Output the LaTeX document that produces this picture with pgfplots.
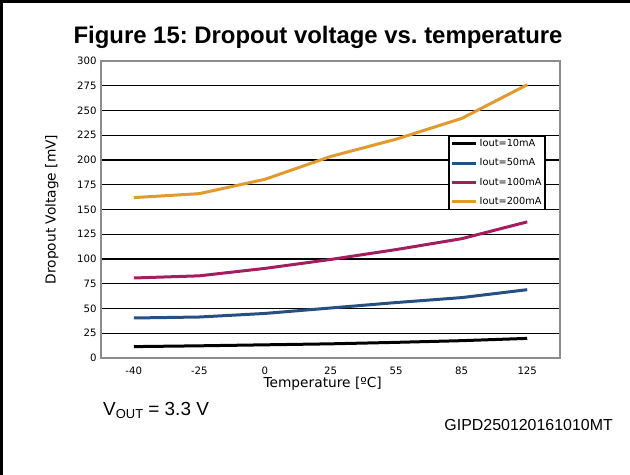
\documentclass[border=0pt]{standalone}
\usepackage{fontspec}
\setmainfont{DejaVu Sans}
\newfontfamily\arial{Liberation Sans}
\usepackage{pgfplots}
\pgfplotsset{compat=1.18}
\definecolor{cblue}{RGB}{38,80,130}
\definecolor{cmag}{RGB}{163,30,95}
\definecolor{corange}{RGB}{226,153,45}
\frenchspacing
\begin{document}
\begin{tikzpicture}[x=1bp,y=1bp]
\begin{axis}[
  at={(101bp,117bp)}, anchor=south west,
  width=459bp, height=297bp, scale only axis,
  xmin=-0.5, xmax=6.5, ymin=0, ymax=300,
  xtick={0,...,6}, xticklabels={-40,-25,0,25,55,85,125},
  ytick={0,25,...,300},
  ymajorgrids, major grid style={black, line width=1.1bp},
  axis line style={draw=black!45, line width=1.5bp},
  major tick length=0pt,
  /pgf/number format/assume math mode=true,
  tick label style={font=\fontsize{10.2}{11}\selectfont},
  xticklabel style={yshift=-5bp, text height=7.5bp, text depth=0bp},
  yticklabel style={xshift=-1bp},
  xlabel={Temperature [ºC]},
  ylabel={Dropout Voltage [mV]},
  label style={font=\fontsize{13.8}{15}\selectfont},
  xlabel style={at={(axis description cs:0.483,-0.098)}, anchor=base},
  ylabel style={at={(axis description cs:-0.107,0.5)}, anchor=center},
  legend style={at={(rel axis cs:0.757,0.750)}, anchor=north west,
    draw=black, line width=1.5bp, font=\fontsize{9.8}{11}\selectfont,
    inner sep=1.5bp, row sep=6.5bp, cells={anchor=west}},
  legend image code/.code={\draw[#1, line width=3bp] (0bp,0bp) -- (24bp,0bp);},
  every axis plot/.append style={line width=3bp, mark=none},
]
\addplot[black] coordinates {(0,11.5) (1,12.3) (2,13.3) (3,14.3) (4,15.8) (5,17.5) (6,19.8)};
\addlegendentry{Iout=10mA}
\addplot[cblue] coordinates {(0,40.4) (1,41.4) (2,45) (3,50.5) (4,56) (5,61) (6,69)};
\addlegendentry{Iout=50mA}
\addplot[cmag] coordinates {(0,80.8) (1,83) (2,90.5) (3,99.5) (4,109.5) (5,120.5) (6,137.5)};
\addlegendentry{Iout=100mA}
\addplot[corange] coordinates {(0,162) (1,166) (2,180.5) (3,203.5) (4,221) (5,242) (6,276)};
\addlegendentry{Iout=200mA}
\end{axis}
\node[anchor=base, font=\arial\bfseries\fontsize{24}{26}\selectfont, inner sep=0pt] at (318,431.5) {Figure 15: Dropout voltage vs. temperature};
\node[anchor=base west, font=\arial\fontsize{19}{21}\selectfont, inner sep=0pt] at (103,59) {V\raisebox{-0.3ex}{\fontsize{13}{14}\selectfont OUT} = 3.3 V};
\node[anchor=base east, font=\arial\fontsize{16}{18}\selectfont, inner sep=0pt] at (613,44.3) {GIPD250120161010MT};
\draw[line width=3bp] (1.5,0) -- (1.5,473.5) -- (630,473.5);
\pgfresetboundingbox
\path[use as bounding box] (0,0) rectangle (630,475);
\end{tikzpicture}
\end{document}
